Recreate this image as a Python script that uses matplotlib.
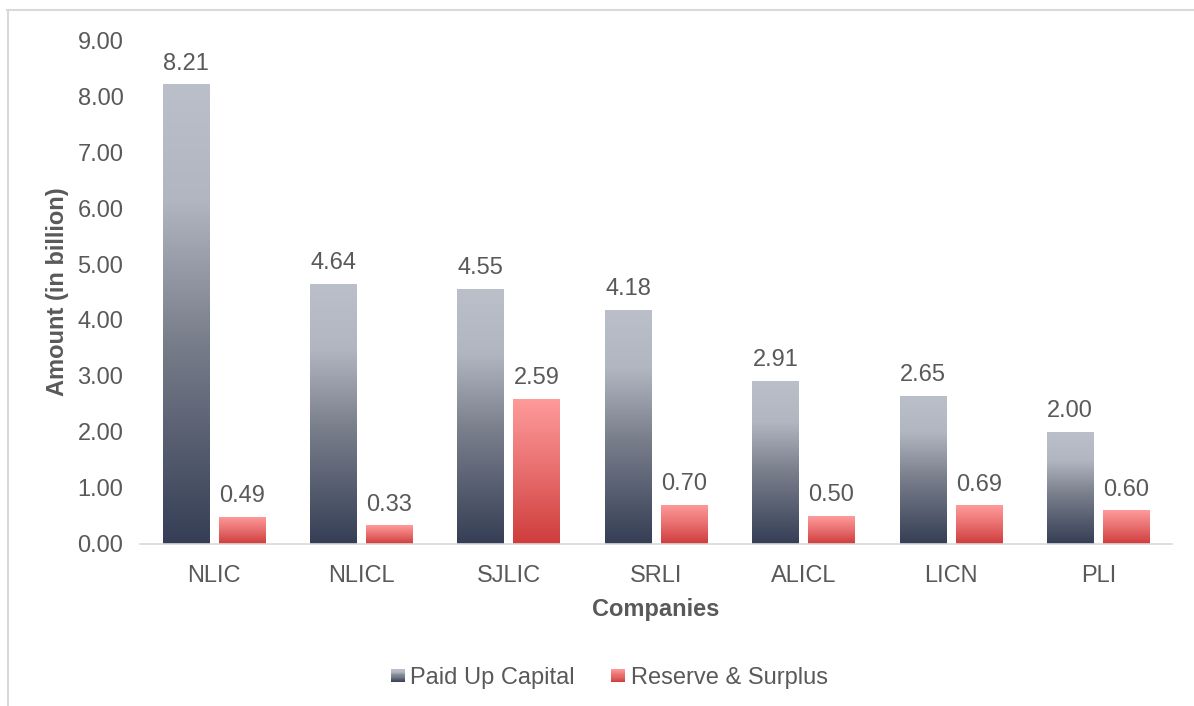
import numpy as np
import matplotlib.pyplot as plt
from matplotlib.colors import LinearSegmentedColormap
from matplotlib.patches import Rectangle
from matplotlib.legend_handler import HandlerBase
from matplotlib.lines import Line2D

plt.rcParams['font.family'] = ['Liberation Sans', 'DejaVu Sans']

companies = ['NLIC', 'NLICL', 'SJLIC', 'SRLI', 'ALICL', 'LICN', 'PLI']
paid_up = [8.21, 4.64, 4.55, 4.18, 2.91, 2.65, 2.00]
reserve = [0.49, 0.33, 2.59, 0.70, 0.50, 0.69, 0.60]
series_names = ['Paid Up Capital', 'Reserve & Surplus']

TXT = '#595959'
AXC = '#D9D9D9'
FS = 17

gray_cmap = LinearSegmentedColormap.from_list(
    'g', [(0, '#353E55'), (0.45, '#7A7F8C'), (0.75, '#B2B6C1'), (1, '#BBBFC9')])
red_cmap = LinearSegmentedColormap.from_list(
    'r', [(0, '#CF3C3C'), (0.5, '#E86E6E'), (1, '#FF9B9B')])


def gradient_bars(ax, bars, cmap):
    grad = np.linspace(0, 1, 256).reshape(-1, 1)
    for b in bars:
        x0, y0 = b.get_x(), b.get_y()
        w, h = b.get_width(), b.get_height()
        b.set_facecolor('none')
        b.set_edgecolor('none')
        im = ax.imshow(grad, cmap=cmap, origin='lower', aspect='auto',
                       extent=(x0, x0 + w, y0, y0 + h), zorder=2)
        im.set_clip_path(b)


class GradientHandler(HandlerBase):
    def __init__(self, cmap):
        super().__init__()
        self.cmap = cmap

    def create_artists(self, legend, orig_handle, xdescent, ydescent,
                       width, height, fontsize, trans):
        size = height * 0.8
        x0 = width - size
        y0 = (height - size) / 2
        n = 12
        arts = []
        for i in range(n):
            r = Rectangle((x0, y0 + size * i / n), size, size / n + 0.2,
                          facecolor=self.cmap((i + 0.5) / n),
                          edgecolor='none', transform=trans)
            arts.append(r)
        return arts


fig = plt.figure(figsize=(11.94, 7.06), dpi=100)
ax = fig.add_axes([0.1173, 0.2295, 0.8643, 0.7138])

x = np.arange(len(companies))
w = 0.315
off = 0.19
b1 = ax.bar(x - off, paid_up, w, zorder=2)
b2 = ax.bar(x + off, reserve, w, zorder=2)
gradient_bars(ax, b1, gray_cmap)
gradient_bars(ax, b2, red_cmap)

for bars, vals in ((b1, paid_up), (b2, reserve)):
    for b, v in zip(bars, vals):
        ax.annotate(f'{v:.2f}', (b.get_x() + b.get_width() / 2, v),
                    xytext=(0, 7), textcoords='offset points',
                    ha='center', va='bottom', fontsize=FS, color=TXT)

ax.set_xlim(-0.5, len(companies) - 0.5)
ax.set_ylim(0, 9)
ax.set_yticks(np.arange(0, 10, 1))
ax.set_yticklabels([f'{v:.2f}' for v in np.arange(0, 10, 1)])
ax.set_xticks(x)
ax.set_xticklabels(companies)
ax.tick_params(axis='both', length=0, labelsize=FS, labelcolor=TXT)
ax.tick_params(axis='x', pad=15)
ax.tick_params(axis='y', pad=12)
for s in ('top', 'right', 'left'):
    ax.spines[s].set_visible(False)
ax.spines['bottom'].set_color(AXC)
ax.spines['bottom'].set_linewidth(1.2)

ax.set_xlabel('Companies', fontsize=FS, fontweight='bold', color=TXT, labelpad=8)
ax.set_ylabel('Amount (in billion)', fontsize=FS, fontweight='bold', color=TXT, labelpad=6)

h1 = Line2D([], [])
h2 = Line2D([], [])
fig.legend([h1, h2], series_names, loc='center', bbox_to_anchor=(0.51, 0.040),
           ncol=2, frameon=False, fontsize=FS, labelcolor=TXT,
           handler_map={h1: GradientHandler(gray_cmap), h2: GradientHandler(red_cmap)},
           handlelength=0.6, handletextpad=0.25, columnspacing=1.5)

# chart border (top and left visible in the crop)
fig.add_artist(Line2D([7 / 1194, 1], [1 - 10 / 706, 1 - 10 / 706],
                      transform=fig.transFigure, color=AXC, lw=1.5))
fig.add_artist(Line2D([7.5 / 1194, 7.5 / 1194], [0, 1 - 10 / 706],
                      transform=fig.transFigure, color=AXC, lw=1.5))

fig.savefig('out.png', dpi=100)
